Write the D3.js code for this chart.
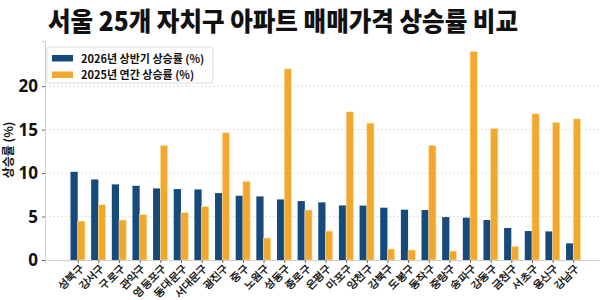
<!DOCTYPE html>
<html><head><meta charset="utf-8">
<script src="https://cdn.jsdelivr.net/npm/d3@7"></script>
<style>
body{margin:0;background:#fff;}
svg{display:block;font-family:"Noto Sans CJK KR","Noto Sans",sans-serif;}
</style></head>
<body><svg id="c" width="600" height="300"></svg>
<script>
const districts = ["성북구","강서구","구로구","관악구","영등포구","동대문구","서대문구","광진구","중구","노원구","성동구","종로구","은평구","마포구","양천구","강북구","도봉구","동작구","중랑구","송파구","강동구","금천구","서초구","용산구","강남구"];
const rate2026H1 = [10.15,9.27,8.70,8.54,8.24,8.16,8.12,7.70,7.39,7.32,6.97,6.78,6.63,6.28,6.26,6.02,5.79,5.75,4.94,4.87,4.60,3.68,3.33,3.29,1.92];
const rate2025 = [4.48,6.36,4.60,5.21,13.18,5.44,6.17,14.64,9.04,2.53,21.99,5.75,3.33,17.05,15.75,1.26,1.15,13.18,1.03,23.98,15.13,1.57,16.82,15.82,16.24];
const yTicks = [0,5,10,15,20];
const seriesNames = ["2026년 상반기 상승률 (%)","2025년 연간 상승률 (%)"];
const colors = ["#154a7b","#f2a72e"];

const svg = d3.select("#c");
const L = 45, R = 606, T = 41, B = 260;
const n = districts.length;
const bw = 0.35;
const x = d3.scaleLinear().domain([-1.585, n - 1 + 1.585]).range([L, R]);
const y = d3.scaleLinear().domain([0, 25.2]).range([B, T]);

// title
svg.append("text").attr("x", 283).attr("y", 31).attr("text-anchor","middle")
  .attr("font-size", 26).attr("font-weight", 900).attr("fill","#111")
  .attr("textLength", 470).attr("lengthAdjust","spacingAndGlyphs")
  .text("서울 25개 자치구 아파트 매매가격 상승률 비교");

// grid
svg.append("g").selectAll("line").data(yTicks.filter(d=>d>0)).join("line")
  .attr("x1", L).attr("x2", R).attr("y1", d=>y(d)).attr("y2", d=>y(d))
  .attr("stroke","#d8d8d8").attr("stroke-width",0.8).attr("stroke-dasharray","2,2");

// bars
const data = districts.map((d,i)=>({d,i,a:rate2026H1[i],b:rate2025[i]}));
const g = svg.append("g");
g.selectAll("rect.a").data(data).join("rect").attr("class","a")
  .attr("x", d=>x(d.i - bw)).attr("width", x(bw)-x(0))
  .attr("y", d=>y(d.a)).attr("height", d=>y(0)-y(d.a)).attr("fill", colors[0]);
g.selectAll("rect.b").data(data).join("rect").attr("class","b")
  .attr("x", d=>x(d.i)).attr("width", x(bw)-x(0))
  .attr("y", d=>y(d.b)).attr("height", d=>y(0)-y(d.b)).attr("fill", colors[1])
  .attr("stroke","#fbe3a8").attr("stroke-width",0.6);

// axes
const yAxis = d3.axisLeft(y).tickValues(yTicks).tickSize(3).tickPadding(4);
const ya = svg.append("g").attr("transform",`translate(${L},0)`).call(yAxis);
ya.select(".domain").attr("stroke","#cfcfcf");
ya.selectAll(".tick line").attr("stroke","#666");
ya.selectAll(".tick text").attr("font-size",17).attr("font-weight",700).attr("fill","#111")
  .attr("font-family","'Noto Sans','DejaVu Sans',sans-serif");

const xAxis = d3.axisBottom(x).tickValues(d3.range(n)).tickFormat(i=>districts[i]).tickSize(3).tickPadding(2);
const xa = svg.append("g").attr("transform",`translate(0,${B})`).call(xAxis);
xa.select(".domain").attr("stroke","#cfcfcf");
xa.selectAll(".tick line").attr("stroke","#666");
xa.selectAll(".tick text").attr("font-size",10.5).attr("font-weight",700).attr("fill","#111")
  .attr("letter-spacing","-0.7px")
  .attr("text-anchor","end").attr("x",0).attr("y",0).attr("dy","0.35em")
  .attr("transform","translate(3,6) rotate(-45)");

// y label
svg.append("text").attr("transform","translate(13,150) rotate(-90)").attr("text-anchor","middle")
  .attr("font-size",12).attr("font-weight",700).attr("fill","#111").text("상승률 (%)");

// legend
const lg = svg.append("g");
lg.append("rect").attr("x",47).attr("y",47).attr("width",166).attr("height",36).attr("rx",2)
  .attr("fill","#fff").attr("fill-opacity",0.85).attr("stroke","#ddd");
seriesNames.forEach((s,k)=>{
  lg.append("rect").attr("x",52).attr("y",55+k*16.5).attr("width",21).attr("height",6.5).attr("fill",colors[k]);
  lg.append("text").attr("x",81).attr("y",62.5+k*16.5).attr("font-size",11).attr("font-weight",700)
    .attr("fill","#111").text(s);
});
</script></body></html>
